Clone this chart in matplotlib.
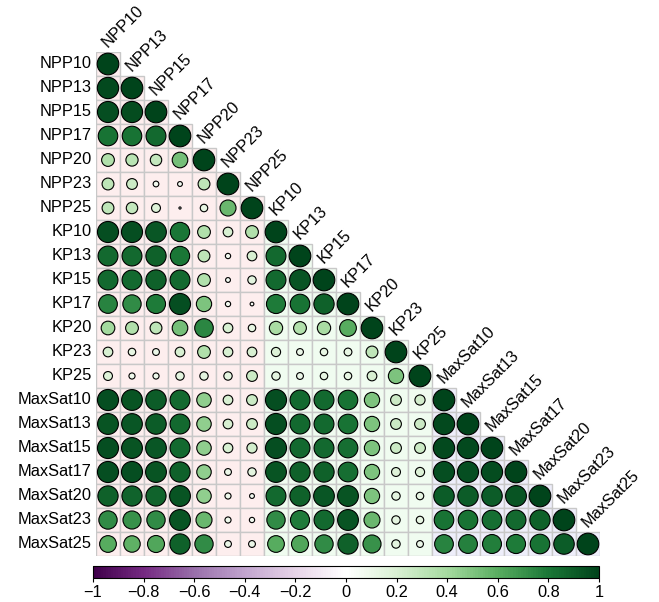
import numpy as np
import matplotlib
matplotlib.use("Agg")
import matplotlib.pyplot as plt
from matplotlib.patches import Circle, Rectangle
from matplotlib.colors import LinearSegmentedColormap, Normalize
from matplotlib.cm import ScalarMappable

plt.rcParams['font.family'] = ['Liberation Sans', 'DejaVu Sans']

labels = ["NPP10", "NPP13", "NPP15", "NPP17", "NPP20", "NPP23", "NPP25",
          "KP10", "KP13", "KP15", "KP17", "KP20", "KP23", "KP25",
          "MaxSat10", "MaxSat13", "MaxSat15", "MaxSat17", "MaxSat20", "MaxSat23", "MaxSat25"]
groups = ["NPP"] * 7 + ["KP"] * 7 + ["MaxSat"] * 7
group_bg = {"NPP": "#FDEEEE", "KP": "#F0FCF0", "MaxSat": "#EEEEFA"}

# lower-triangle correlations (excluding diagonal = 1), row by row
r_NPP13 = [0.97]
r_NPP15 = [0.95, 0.96]
r_NPP17 = [0.82, 0.82, 0.85]
r_NPP20 = [0.35, 0.32, 0.28, 0.52]
r_NPP23 = [0.30, 0.25, 0.07, 0.05, 0.30]
r_NPP25 = [0.30, 0.28, 0.17, 0.01, 0.12, 0.55]
r_KP10 = [0.95, 0.95, 0.92, 0.80, 0.35, 0.20, 0.35]
r_KP13 = [0.85, 0.85, 0.88, 0.80, 0.30, 0.06, 0.20, 0.85]
r_KP15 = [0.85, 0.85, 0.88, 0.85, 0.35, 0.05, 0.15, 0.85, 0.93]
r_KP17 = [0.75, 0.72, 0.78, 0.95, 0.50, 0.06, 0.03, 0.78, 0.82, 0.88]
r_KP20 = [0.40, 0.35, 0.30, 0.52, 0.74, 0.20, 0.12, 0.38, 0.35, 0.38, 0.60]
r_KP23 = [0.20, 0.12, 0.10, 0.20, 0.35, 0.20, 0.20, 0.18, 0.10, 0.12, 0.13, 0.30]
r_KP25 = [0.17, 0.08, 0.08, 0.15, 0.15, 0.15, 0.25, 0.15, 0.10, 0.12, 0.12, 0.20, 0.50]
r_MaxSat10 = [0.95, 0.93, 0.90, 0.85, 0.45, 0.20, 0.25, 0.95, 0.85, 0.85, 0.82, 0.50, 0.25, 0.22]
r_MaxSat13 = [0.93, 0.92, 0.90, 0.85, 0.45, 0.20, 0.25, 0.95, 0.85, 0.85, 0.82, 0.50, 0.25, 0.25,
              0.97]
r_MaxSat15 = [0.95, 0.93, 0.92, 0.85, 0.45, 0.20, 0.22, 0.95, 0.85, 0.85, 0.83, 0.50, 0.25, 0.25,
              0.97, 0.97]
r_MaxSat17 = [0.95, 0.95, 0.93, 0.88, 0.45, 0.10, 0.15, 0.93, 0.88, 0.88, 0.83, 0.50, 0.17, 0.18,
              0.95, 0.95, 0.96]
r_MaxSat20 = [0.88, 0.87, 0.87, 0.93, 0.45, 0.08, 0.05, 0.85, 0.88, 0.92, 0.93, 0.50, 0.15, 0.12,
              0.90, 0.90, 0.90, 0.93]
r_MaxSat23 = [0.72, 0.70, 0.72, 0.93, 0.55, 0.08, 0.06, 0.72, 0.78, 0.85, 0.93, 0.55, 0.15, 0.12,
              0.82, 0.82, 0.83, 0.85, 0.88]
r_MaxSat25 = [0.60, 0.58, 0.62, 0.88, 0.72, 0.10, 0.10, 0.60, 0.62, 0.72, 0.88, 0.70, 0.15, 0.10,
              0.75, 0.76, 0.77, 0.78, 0.82, 0.90]

lower_rows = [[], r_NPP13, r_NPP15, r_NPP17, r_NPP20, r_NPP23, r_NPP25,
              r_KP10, r_KP13, r_KP15, r_KP17, r_KP20, r_KP23, r_KP25,
              r_MaxSat10, r_MaxSat13, r_MaxSat15, r_MaxSat17, r_MaxSat20, r_MaxSat23, r_MaxSat25]

n = len(labels)
corr = np.eye(n)
for i, row in enumerate(lower_rows):
    for j, v in enumerate(row):
        corr[i, j] = v
        corr[j, i] = v

prgn = ["#40004B", "#762A83", "#9970AB", "#C2A5CF", "#E7D4E8", "#FFFFFF",
        "#D9F0D3", "#A6DBA0", "#5AAE61", "#1B7837", "#00441B"]
cmap = LinearSegmentedColormap.from_list("corrPRGn", prgn, N=200)
norm = Normalize(-1, 1)

W, H = 659, 602
fig = plt.figure(figsize=(W / 100, H / 100), dpi=100)
ax = fig.add_axes([96 / W, 1 - 556 / H, 504 / W, 504 / H])
ax.set_xlim(-0.5, n - 0.5)
ax.set_ylim(n - 0.5, -0.5)
ax.axis("off")

for i in range(n):
    for j in range(i + 1):
        ax.add_patch(Rectangle((j - 0.5, i - 0.5), 1, 1, facecolor=group_bg[groups[j]],
                               edgecolor="#C8C8C8", linewidth=1.0, zorder=1))
for i in range(n):
    for j in range(i + 1):
        v = corr[i, j]
        rad = 0.45 * np.sqrt(abs(v))
        ax.add_patch(Circle((j, i), rad, facecolor=cmap(norm(v)), edgecolor="black",
                            linewidth=0.8, zorder=3))

for i, lab in enumerate(labels):
    ax.text(-0.68, i, lab, ha="right", va="center", fontsize=11.8, color="black")
    ax.text(i + 0.08, i - 0.58, lab, ha="left", va="bottom", rotation=45,
            rotation_mode="anchor", fontsize=11.8, color="black")

cax = fig.add_axes([93 / W, 1 - 578 / H, 506 / W, 12 / H])
cb = fig.colorbar(ScalarMappable(norm=norm, cmap=cmap), cax=cax, orientation="horizontal")
ticks = [-1, -0.8, -0.6, -0.4, -0.2, 0, 0.2, 0.4, 0.6, 0.8, 1]
cb.set_ticks(ticks)
cb.set_ticklabels([("\u2212" if t < 0 else "") + ("%g" % abs(t)) for t in ticks])
cb.ax.tick_params(labelsize=11.8, length=3, width=0.8, pad=2)
cb.outline.set_linewidth(0.8)

fig.savefig("out.png", dpi=100)
